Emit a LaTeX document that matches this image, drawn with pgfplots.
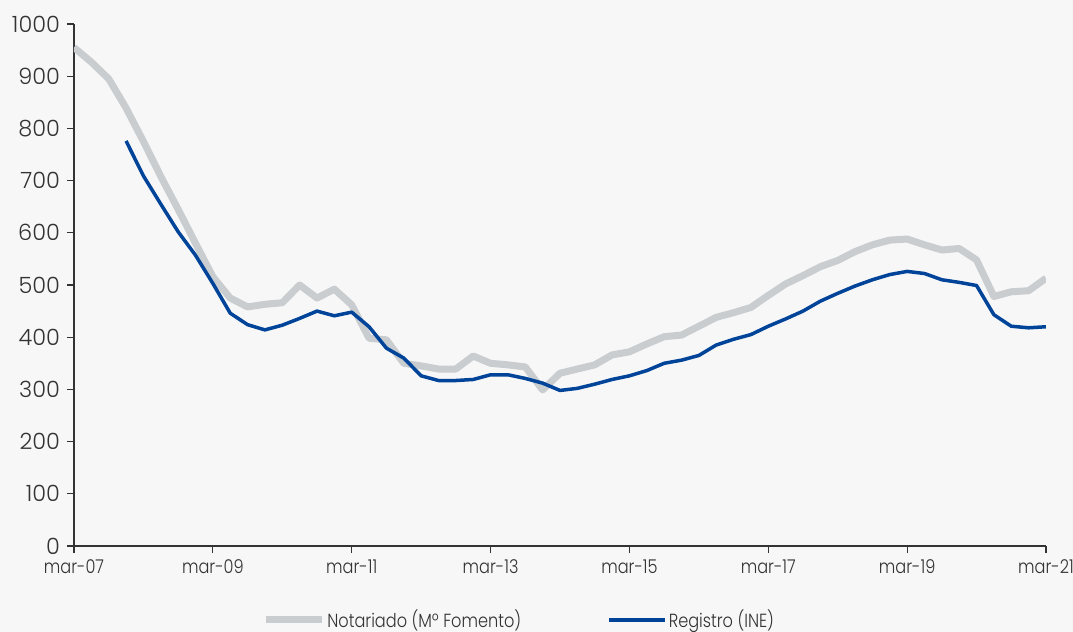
\documentclass[border=0pt]{standalone}
\usepackage{fontspec}
\setmainfont{Poppins}[UprightFont={* Light}]
\newfontfamily\condfont{Poppins}[UprightFont={* Light}, FakeStretch=0.85]
\usepackage{pgfplots}
\pgfplotsset{compat=1.18}
\definecolor{bgcol}{HTML}{F7F7F7}
\definecolor{notgrey}{HTML}{C9CDCF}
\definecolor{regblue}{HTML}{00449A}
\definecolor{axcol}{HTML}{333333}
\begin{document}
\begin{tikzpicture}
\fill[bgcol] (-37pt,-43pt) rectangle (499.5pt,273pt);
\useasboundingbox (-37pt,-43pt) rectangle (499.5pt,273pt);
\begin{axis}[
  scale only axis, width=486pt, height=261pt,
  xmin=0, xmax=56, ymin=0, ymax=1000,
  axis lines*=left,
  axis line style={axcol, line width=0.75pt, -},
  xtick={0,8,...,56},
  xticklabels={mar-07,mar-09,mar-11,mar-13,mar-15,mar-17,mar-19,mar-21},
  ytick={0,100,...,1000},
  tick align=outside, major tick length=3.5pt,
  tick style={axcol, line width=0.6pt},
  xticklabel style={font=\condfont\fontsize{9.5}{11}\selectfont, text=axcol},
  yticklabel style={font=\fontsize{11.2}{13}\selectfont, text=axcol},
  /pgf/number format/assume math mode=true,
  /pgf/number format/set thousands separator={},
  legend style={at={(0.458,0)}, anchor=center, yshift=-37pt, draw=none, fill=none,
    font=\condfont\fontsize{9.5}{11}\selectfont, text=axcol,
    /tikz/every even column/.append style={column sep=42pt},
    nodes={inner xsep=1pt, inner ysep=1pt}},
  legend columns=2,
  legend image code/.code={\draw[#1] (0pt,0pt) -- (28pt,0pt);},
]
% Notariado (M. Fomento), quarterly from mar-07
\addplot[notgrey, line width=3.5pt, line join=round] coordinates {
(0,955) (1,927) (2,895) (3,839) (4,775) (5,708) (6,645) (7,580) (8,516) (9,475)
(10,458) (11,463) (12,466) (13,500) (14,475) (15,492) (16,462) (17,398) (18,395) (19,350)
(20,345) (21,339) (22,339) (23,364) (24,350) (25,347) (26,343) (27,299) (28,331) (29,339)
(30,347) (31,366) (32,372) (33,387) (34,401) (35,404) (36,421) (37,438) (38,447) (39,457)
(40,480) (41,502) (42,518) (43,535) (44,547) (45,564) (46,577) (47,586) (48,588) (49,577)
(50,567) (51,570) (52,548) (53,478) (54,487) (55,489) (56,513)
};
\addlegendentry{Notariado (Mº Fomento)}
% Registro (INE), from dec-07
\addplot[regblue, line width=1.75pt, line join=round] coordinates {
(3,776) (4,709) (5,655) (6,602) (7,557) (8,503) (9,446)
(10,424) (11,414) (12,423) (13,436) (14,450) (15,441) (16,448) (17,420) (18,379) (19,360)
(20,326) (21,317) (22,317) (23,319) (24,328) (25,328) (26,321) (27,312) (28,298) (29,302)
(30,310) (31,319) (32,326) (33,336) (34,350) (35,356) (36,365) (37,385) (38,396) (39,405)
(40,421) (41,435) (42,450) (43,469) (44,484) (45,498) (46,510) (47,520) (48,526) (49,522)
(50,510) (51,505) (52,499) (53,443) (54,421) (55,418) (56,420)
};
\addlegendentry{Registro (INE)}
\end{axis}
\end{tikzpicture}
\end{document}
